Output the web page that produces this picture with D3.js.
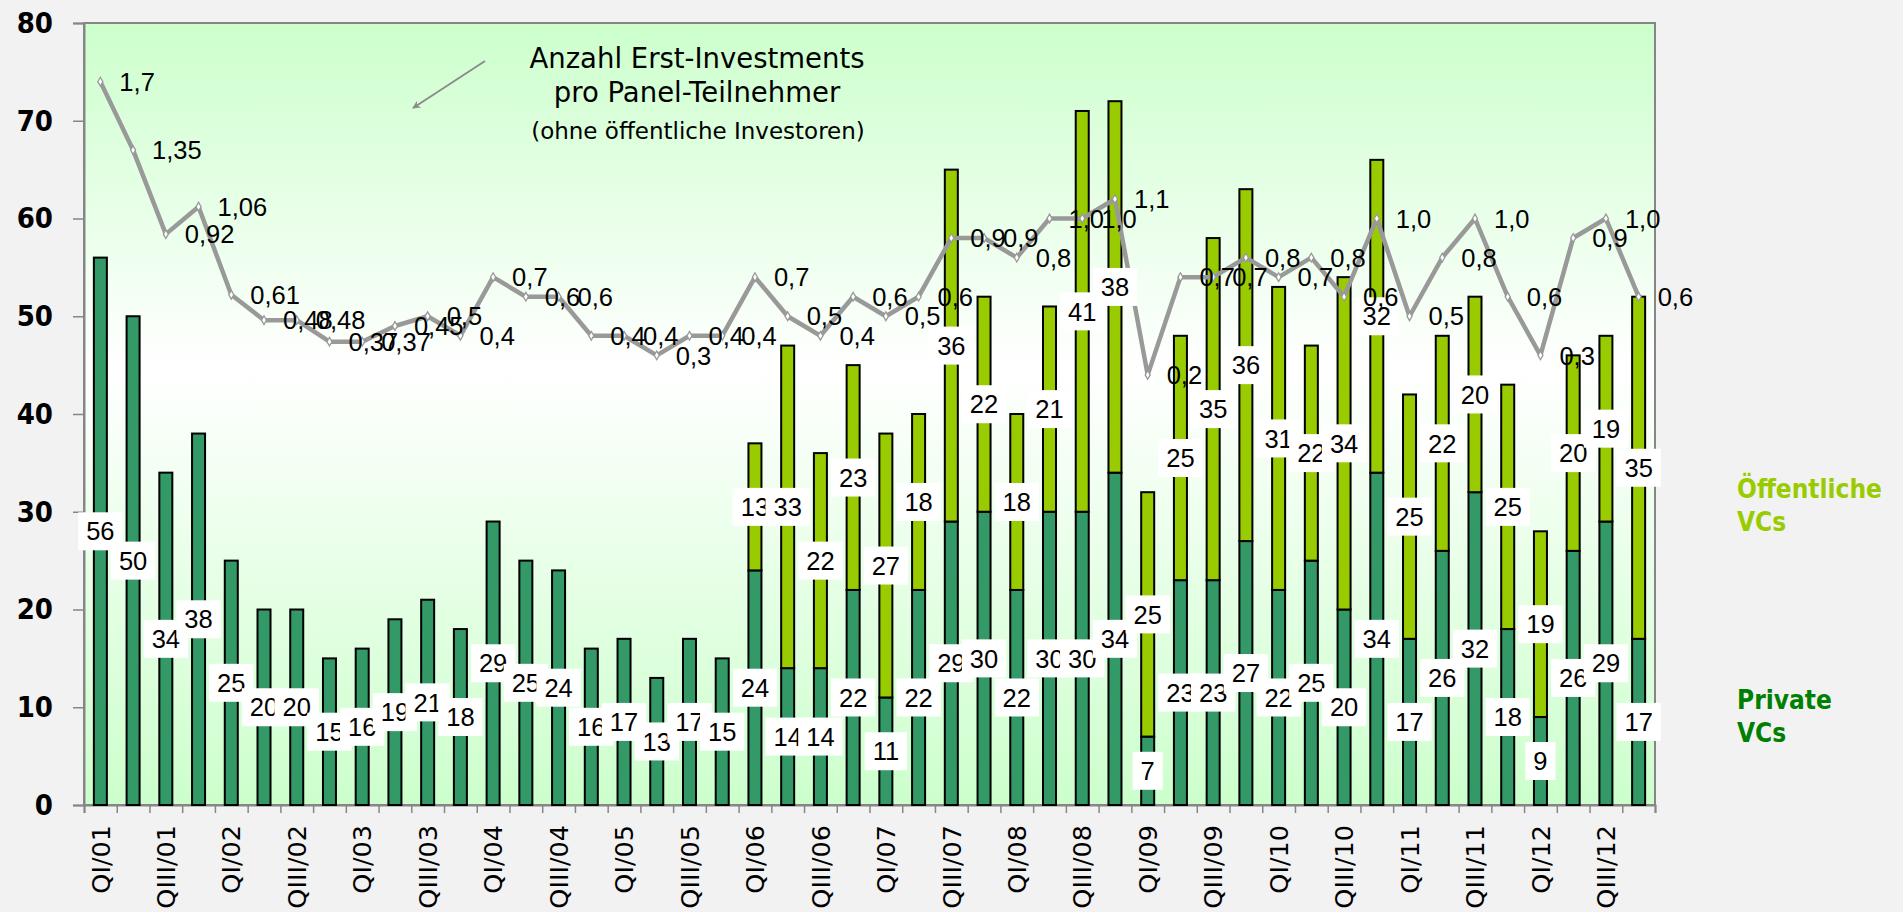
<!DOCTYPE html>
<html>
<head>
<meta charset="utf-8">
<script src="https://cdn.jsdelivr.net/npm/d3@7"></script>
<style>
  html, body { margin: 0; padding: 0; background: #f2f2f2; }
  svg { display: block; }
</style>
</head>
<body>
<svg id="chart"></svg>
<script>
// quarters (x categories)
const quarters = [
  "QI/01","QII/01","QIII/01","QIV/01","QI/02","QII/02","QIII/02","QIV/02",
  "QI/03","QII/03","QIII/03","QIV/03","QI/04","QII/04","QIII/04","QIV/04",
  "QI/05","QII/05","QIII/05","QIV/05","QI/06","QII/06","QIII/06","QIV/06",
  "QI/07","QII/07","QIII/07","QIV/07","QI/08","QII/08","QIII/08","QIV/08",
  "QI/09","QII/09","QIII/09","QIV/09","QI/10","QII/10","QIII/10","QIV/10",
  "QI/11","QII/11","QIII/11","QIV/11","QI/12","QII/12","QIII/12","QIV/12"
];

// Private VCs (lower segment)
const privateVCs = [56,50,34,38,25,20,20,15,16,19,21,18,29,25,24,16,17,13,17,15,
  24,14,14,22,11,22,29,30,22,30,30,34,7,23,23,27,22,25,20,34,17,26,32,18,9,26,29,17];

// Oeffentliche VCs (upper segment)
const publicVCs = [0,0,0,0,0,0,0,0,0,0,0,0,0,0,0,0,0,0,0,0,
  13,33,22,23,27,18,36,22,18,21,41,38,25,25,35,36,31,22,34,32,25,22,20,25,19,20,19,35];

// Erst-Investments pro Panel-Teilnehmer (secondary, hidden axis)
const perMember = [1.7,1.35,0.92,1.06,0.61,0.48,0.48,0.37,0.37,0.45,0.5,0.4,0.7,0.6,0.6,0.4,
  0.4,0.3,0.4,0.4,0.7,0.5,0.4,0.6,0.5,0.6,0.9,0.9,0.8,1.0,1.0,1.1,
  0.2,0.7,0.7,0.8,0.7,0.8,0.6,1.0,0.5,0.8,1.0,0.6,0.3,0.9,1.0,0.6];
const perMemberLabels = ["1,7","1,35","0,92","1,06","0,61","0,48","0,48","0,37","0,37","0,45","0,5","0,4",
  "0,7","0,6","0,6","0,4","0,4","0,3","0,4","0,4","0,7","0,5","0,4","0,6","0,5","0,6","0,9","0,9",
  "0,8","1,0","1,0","1,1","0,2","0,7","0,7","0,8","0,7","0,8","0,6","1,0","0,5","0,8","1,0","0,6",
  "0,3","0,9","1,0","0,6"];

const yTicks = [0,10,20,30,40,50,60,70,80];

const W = 1903, H = 912;
const plot = {left: 84, right: 1655, top: 23, bottom: 805};

const svg = d3.select("#chart").attr("width", W).attr("height", H);

svg.append("rect").attr("width", W).attr("height", H).attr("fill", "#f2f2f2");

// background gradient of the plot area
const defs = svg.append("defs");
const grad = defs.append("linearGradient").attr("id", "bg")
  .attr("x1", 0).attr("y1", 0).attr("x2", 0).attr("y2", 1);
grad.append("stop").attr("offset", "0%").attr("stop-color", "#ccffcc");
grad.append("stop").attr("offset", "44%").attr("stop-color", "#ffffff");
grad.append("stop").attr("offset", "100%").attr("stop-color", "#ccffcc");

const marker = defs.append("marker").attr("id", "arrow")
  .attr("viewBox", "0 0 10 10").attr("refX", 9).attr("refY", 5)
  .attr("markerWidth", 8).attr("markerHeight", 8).attr("orient", "auto-start-reverse")
  .attr("markerUnits", "userSpaceOnUse");
marker.append("path").attr("d", "M0,0 L10,5 L0,10 L3,5 Z").attr("fill", "#8c8c8c");

svg.append("rect")
  .attr("x", plot.left).attr("y", plot.top)
  .attr("width", plot.right - plot.left).attr("height", plot.bottom - plot.top)
  .attr("fill", "url(#bg)")
  .attr("stroke", "#868686").attr("stroke-width", 2);

// scales
const x = d3.scaleBand().domain(quarters).range([plot.left, plot.right]);
const y = d3.scaleLinear().domain([0, 80]).range([plot.bottom, plot.top]);
const y2 = d3.scaleLinear().domain([-2, 2]).range([plot.bottom, plot.top]);
const xEdge = d3.scaleLinear().domain([0, quarters.length]).range([plot.left, plot.right]);

const bw = 13;
const cx = q => x(q) + x.bandwidth() / 2;

// y axis
const yAxis = svg.append("g")
  .attr("transform", "translate(" + plot.left + ",0)")
  .call(d3.axisLeft(y).tickValues(yTicks).tickSize(11).tickPadding(20));
yAxis.select(".domain").attr("stroke", "#868686").attr("stroke-width", 2);
yAxis.selectAll(".tick line").attr("stroke", "#868686").attr("stroke-width", 1.5);
yAxis.selectAll(".tick text")
  .attr("font-family", "'DejaVu Sans Condensed', 'DejaVu Sans', sans-serif")
  .attr("font-weight", "bold").attr("font-size", 29).attr("fill", "#000");

// x axis: boundary ticks
const xTickAxis = svg.append("g")
  .attr("transform", "translate(0," + plot.bottom + ")")
  .call(d3.axisBottom(xEdge).tickValues(d3.range(0, quarters.length + 1)).tickSize(8).tickFormat(""));
xTickAxis.select(".domain").attr("stroke", "#868686").attr("stroke-width", 2);
xTickAxis.selectAll(".tick line").attr("stroke", "#868686").attr("stroke-width", 1.5);

// x axis: labels (every second quarter)
const xLabelAxis = svg.append("g")
  .attr("transform", "translate(0," + plot.bottom + ")")
  .call(d3.axisBottom(x).tickSize(0).tickFormat((d, i) => i % 2 === 0 ? d : ""));
xLabelAxis.select(".domain").remove();
xLabelAxis.selectAll(".tick text")
  .attr("transform", "rotate(-90)")
  .attr("x", -20).attr("y", 0).attr("dy", "0.36em")
  .style("text-anchor", "end")
  .attr("font-family", "'DejaVu Sans', sans-serif")
  .attr("font-size", 25.5).attr("fill", "#000");

// bars
const bars = svg.append("g");
bars.selectAll(".priv")
  .data(quarters)
  .enter().append("rect")
  .attr("x", d => cx(d) - bw / 2)
  .attr("y", (d, i) => y(privateVCs[i]))
  .attr("width", bw)
  .attr("height", (d, i) => y(0) - y(privateVCs[i]))
  .attr("fill", "#339966").attr("stroke", "#000").attr("stroke-width", 2);

bars.selectAll(".pub")
  .data(quarters.filter((d, i) => publicVCs[i] > 0))
  .enter().append("rect")
  .attr("x", d => cx(d) - bw / 2)
  .attr("y", d => { const i = quarters.indexOf(d); return y(privateVCs[i] + publicVCs[i]); })
  .attr("width", bw)
  .attr("height", d => { const i = quarters.indexOf(d); return y(privateVCs[i]) - y(privateVCs[i] + publicVCs[i]); })
  .attr("fill", "#99cc00").attr("stroke", "#000").attr("stroke-width", 2);

// line
const line = d3.line()
  .x((d, i) => cx(quarters[i]))
  .y(d => y2(d));

svg.append("path")
  .datum(perMember)
  .attr("d", line)
  .attr("fill", "none")
  .attr("stroke", "#999999")
  .attr("stroke-width", 4.5)
  .attr("stroke-linejoin", "round");

svg.append("g").selectAll("path")
  .data(perMember)
  .enter().append("path")
  .attr("transform", (d, i) => "translate(" + cx(quarters[i]) + "," + y2(d) + ")")
  .attr("d", d3.symbol(d3.symbolDiamond, 22))
  .attr("fill", "#ffffff").attr("stroke", "#999999").attr("stroke-width", 1.3);

// bar value labels (white boxes)
function boxLabel(g, xc, yc, txt) {
  const lg = g.append("g").attr("transform", "translate(" + xc + "," + yc + ")");
  const r = lg.append("rect").attr("fill", "#ffffff");
  const t = lg.append("text")
    .attr("text-anchor", "middle").attr("dy", "0.36em")
    .attr("font-family", "'Liberation Sans', Arial, sans-serif")
    .attr("font-size", 25.5).attr("fill", "#000")
    .text(txt);
  const w = t.node().getComputedTextLength() + 16;
  r.attr("x", -w / 2).attr("y", -19).attr("width", w).attr("height", 38);
}

const labels = svg.append("g");
quarters.forEach((q, i) => {
  boxLabel(labels, cx(q), y(privateVCs[i] / 2), privateVCs[i]);
});
quarters.forEach((q, i) => {
  if (publicVCs[i] > 0) {
    boxLabel(labels, cx(q), y(privateVCs[i] + publicVCs[i] / 2), publicVCs[i]);
  }
});

// line value labels
svg.append("g").selectAll("text")
  .data(perMember)
  .enter().append("text")
  .attr("x", (d, i) => cx(quarters[i]) + 19)
  .attr("y", d => y2(d))
  .attr("dy", "0.36em")
  .attr("font-family", "'Liberation Sans', Arial, sans-serif")
  .attr("font-size", 25.5).attr("fill", "#000")
  .text((d, i) => perMemberLabels[i]);

// annotation
const note = svg.append("g").attr("font-family", "'DejaVu Sans', sans-serif").attr("fill", "#000")
  .attr("text-anchor", "middle");
note.append("text").attr("x", 697).attr("y", 68).attr("font-size", 27.5).text("Anzahl Erst-Investments");
note.append("text").attr("x", 697).attr("y", 102).attr("font-size", 27.5).text("pro Panel-Teilnehmer");
note.append("text").attr("x", 698).attr("y", 139).attr("font-size", 23).text("(ohne öffentliche Investoren)");

svg.append("line")
  .attr("x1", 485).attr("y1", 61).attr("x2", 413).attr("y2", 108)
  .attr("stroke", "#8c8c8c").attr("stroke-width", 2)
  .attr("marker-end", "url(#arrow)");

// legend
const legend = svg.append("g")
  .attr("font-family", "'DejaVu Sans Condensed', 'DejaVu Sans', sans-serif")
  .attr("font-weight", "bold").attr("font-size", 26);
legend.append("text").attr("x", 1737).attr("y", 498).attr("fill", "#99cc00").text("Öffentliche");
legend.append("text").attr("x", 1737).attr("y", 531).attr("fill", "#99cc00").text("VCs");
legend.append("text").attr("x", 1737).attr("y", 709).attr("fill", "#008000").text("Private");
legend.append("text").attr("x", 1737).attr("y", 742).attr("fill", "#008000").text("VCs");
</script>
</body>
</html>
